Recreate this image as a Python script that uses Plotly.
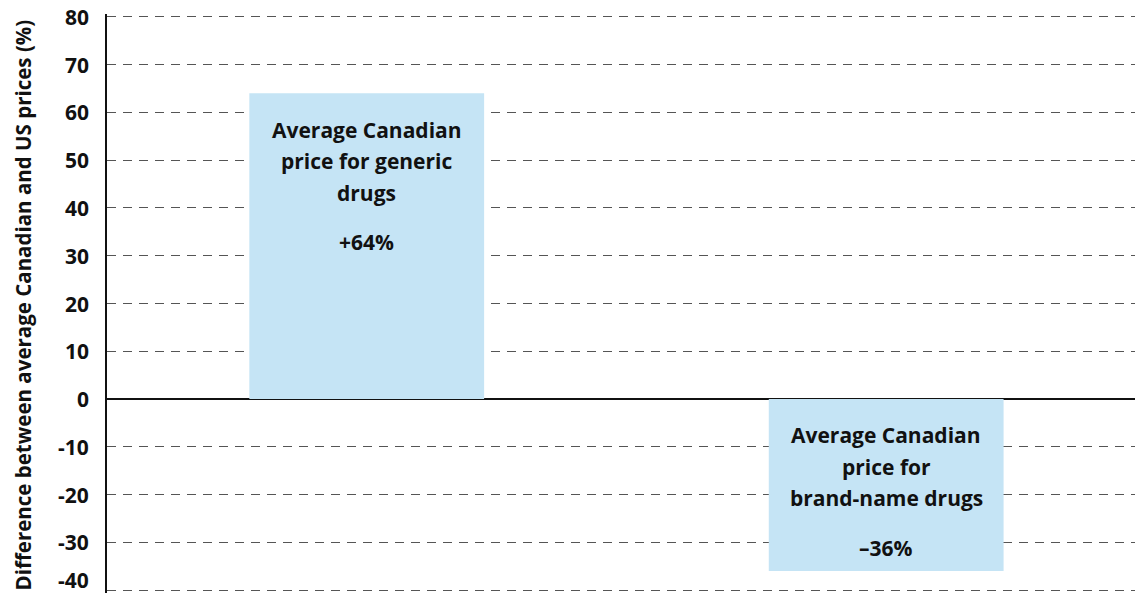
import plotly.graph_objects as go

categories = ["Generic drugs", "Brand-name drugs"]
values = [64, -36]
label_lines = [
    ["Average Canadian", "price for generic", "drugs", "+64%"],
    ["Average Canadian", "price for", "brand-name drugs", "\u201336%"],
]
label_offsets = [7.6, 14.2, 20.8, 31.2]  # distance below bar top edge (data units)
y_ticks = [-40, -30, -20, -10, 0, 10, 20, 30, 40, 50, 60, 70, 80]
y_title = "Difference between average Canadian and US prices (%)"

FONT = "Open Sans"
xpos = list(range(len(categories)))

fig = go.Figure()
fig.add_trace(go.Bar(
    x=xpos, y=values, width=0.452,
    marker=dict(color="#c5e4f5", line=dict(width=0)),
    hoverinfo="skip", showlegend=False,
))

annotations = []
for i, (v, lines) in enumerate(zip(values, label_lines)):
    top = max(v, 0)
    for line, off in zip(lines, label_offsets):
        annotations.append(dict(
            x=xpos[i], y=top - off, xref="x", yref="y",
            text=f"<b>{line}</b>", showarrow=False,
            xanchor="center", yanchor="middle",
            font=dict(family=FONT, size=21, color="#111"),
        ))

# y tick labels drawn as annotations so the edge labels (80, -40) are not dropped
y_min = min(y_ticks)
for t in y_ticks:
    annotations.append(dict(
        x=0, y=t, xref="paper", yref="y", xanchor="right", yanchor="middle",
        xshift=-16, yshift=(10 if t == y_min else 0),
        text=f"<b>{t}</b>", showarrow=False,
        font=dict(family=FONT, size=21, color="#111"),
    ))

# y axis title
annotations.append(dict(
    x=0, y=0.5, xref="paper", yref="paper", xanchor="center", yanchor="middle",
    xshift=-85, yshift=-2, textangle=-90, text=f"<b>{y_title}</b>", showarrow=False,
    font=dict(family=FONT, size=20.5, color="#111"),
))

fig.update_layout(
    width=1135, height=596,
    margin=dict(l=107, r=0, t=14, b=3),
    paper_bgcolor="white", plot_bgcolor="white",
    annotations=annotations,
    xaxis=dict(
        range=[-0.5, 1.479], showticklabels=False, showgrid=False,
        zeroline=False, showline=False, fixedrange=True,
    ),
    yaxis=dict(
        range=[-40.6, 80.6], tickvals=y_ticks, showticklabels=False,
        showgrid=True, gridcolor="#555", griddash="9px,7px", gridwidth=1,
        zeroline=True, zerolinecolor="#111", zerolinewidth=2,
        showline=True, linecolor="#111", linewidth=2,
        ticks="", automargin=False, fixedrange=True,
    ),
)

fig.write_html("out.html")
